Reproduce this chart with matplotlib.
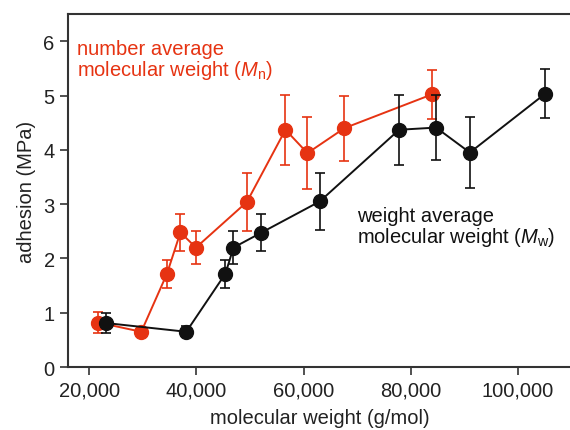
import numpy as np
import matplotlib
matplotlib.use("Agg")
from matplotlib import pyplot as plt
from matplotlib.ticker import FuncFormatter

plt.rcParams['font.family'] = ['Liberation Sans', 'DejaVu Sans']
plt.rcParams['mathtext.fontset'] = 'custom'
plt.rcParams['mathtext.rm'] = 'Liberation Sans'
plt.rcParams['mathtext.it'] = 'Liberation Sans:italic'

# number average molecular weight series
mn_x = [21700, 29700, 34500, 37000, 39900, 49400, 56600, 60700, 67600, 83900]
mn_y = [0.82, 0.65, 1.72, 2.48, 2.20, 3.04, 4.37, 3.94, 4.40, 5.02]
mn_err = [0.19, 0.08, 0.26, 0.34, 0.30, 0.53, 0.64, 0.66, 0.60, 0.45]

# weight average molecular weight series
mw_x = [23200, 38100, 45400, 46900, 52000, 63000, 77800, 84700, 91000, 105000]
mw_y = [0.81, 0.65, 1.72, 2.20, 2.47, 3.05, 4.37, 4.41, 3.95, 5.03]
mw_err = [0.19, 0.10, 0.26, 0.30, 0.34, 0.53, 0.64, 0.60, 0.66, 0.45]

xticks = [20000, 40000, 60000, 80000, 100000]
yticks = [0, 1, 2, 3, 4, 5, 6]

red = '#e63312'
blk = '#111111'

fig = plt.figure(figsize=(5.7, 4.31), dpi=100)
ax = fig.add_axes([0.119, 0.146, 0.884, 0.819])

ax.errorbar(mn_x, mn_y, yerr=mn_err, color=red, marker='o', markersize=10,
            linewidth=1.4, elinewidth=1.2, capsize=3.5, capthick=1.2, zorder=3)
ax.errorbar(mw_x, mw_y, yerr=mw_err, color=blk, marker='o', markersize=10,
            linewidth=1.4, elinewidth=1.2, capsize=3.5, capthick=1.2, zorder=4)

ax.text(17700, 6.05, 'number average\nmolecular weight ($M_\\mathrm{n}$)',
        color=red, fontsize=14.5, va='top', ha='left', linespacing=1.0)
ax.text(70000, 2.97, 'weight average\nmolecular weight ($M_\\mathrm{w}$)',
        color=blk, fontsize=14.5, va='top', ha='left', linespacing=1.0)

ax.set_xlim(16000, 110000)
ax.set_ylim(0, 6.5)
ax.set_xticks(xticks)
ax.set_yticks(yticks)
ax.xaxis.set_major_formatter(FuncFormatter(lambda v, p: f'{int(v):,}'))
ax.tick_params(direction='out', length=6, width=1.2, colors='#333333',
               labelsize=14.5, labelcolor='#222222')
for s in ['left', 'bottom', 'top']:
    ax.spines[s].set_linewidth(1.5)
    ax.spines[s].set_color('#333333')
ax.spines['right'].set_visible(False)

ax.set_xlabel('molecular weight (g/mol)', fontsize=14.5, color='#222222', labelpad=6)
ax.set_ylabel('adhesion (MPa)', fontsize=14.5, color='#222222', labelpad=5)

fig.savefig('out.png', dpi=100)
